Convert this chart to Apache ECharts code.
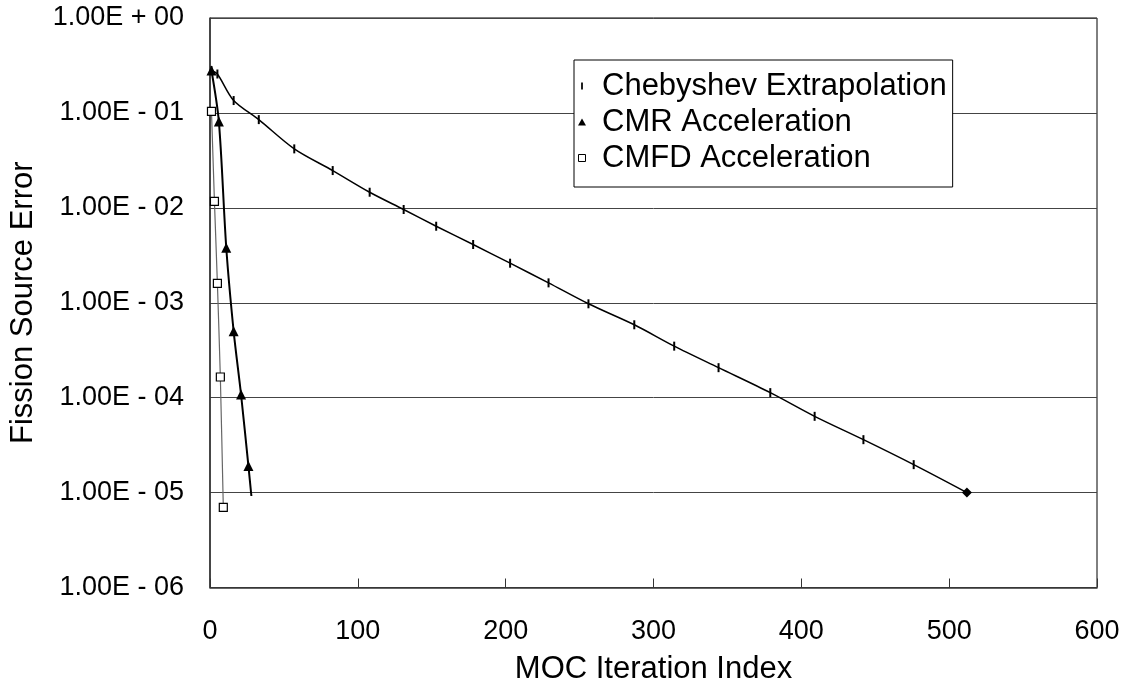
<!DOCTYPE html>
<html>
<head>
<meta charset="utf-8">
<title>Fission Source Error</title>
<script src="https://cdn.jsdelivr.net/npm/echarts@6/dist/echarts.min.js"></script>
<style>
  html, body { margin: 0; padding: 0; background: #fff; }
  #chart { width: 1131px; height: 685px; }
</style>
</head>
<body>
<div id="chart"></div>
<script>
// values
const chebX = [1, 5, 16, 33, 57, 83, 108, 131, 153, 178, 203, 229, 256, 287, 314, 344, 379, 409, 442, 476, 512]
const chebY = [0.28, 0.257, 0.135, 0.085, 0.0418, 0.0247, 0.0146, 0.0096, 0.0064, 0.00411, 0.00261, 0.00162,
  0.000975, 0.000586, 0.000349, 0.000207, 0.000113, 6.36e-5, 3.61e-5, 1.97e-5, 1.0e-5]
const cmrX = [1, 6, 11, 16, 21, 26, 28]
const cmrY = [0.28, 0.081, 0.0038, 5.0e-4, 1.08e-4, 1.9e-5, 9.2e-6]
const cmfdX = [1, 3, 5, 7, 9]
const cmfdY = [0.104, 0.0117, 0.0016, 1.65e-4, 7.0e-6]

const seriesNames = ['Chebyshev Extrapolation', 'CMR Acceleration', 'CMFD Acceleration']
const yTickLabels = ['1.00E - 06', '1.00E - 05', '1.00E - 04', '1.00E - 03', '1.00E - 02', '1.00E - 01', '1.00E + 00']
const xTicks = [0, 100, 200, 300, 400, 500, 600]

const FONT = "'Liberation Sans', Arial, sans-serif"

function pairs(xs, ys) {
  return xs.map((x, i) => [x, ys[i]])
}

const chebData = pairs(chebX, chebY)
// last point of the Chebyshev curve is drawn as a diamond
chebData[chebData.length - 1] = { value: chebData[chebData.length - 1], symbol: 'diamond', symbolSize: 10 }
const cmrData = pairs(cmrX, cmrY)
// CMR curve ends without a marker
cmrData[cmrData.length - 1] = { value: cmrData[cmrData.length - 1], symbol: 'none' }
const cmfdData = pairs(cmfdX, cmfdY)

const chart = echarts.init(document.getElementById('chart'))
chart.setOption({
  animation: false,
  backgroundColor: '#fff',
  grid: {
    left: 210,
    right: 34,
    top: 18,
    bottom: 97.5,
    show: true,
    borderColor: '#000',
    borderWidth: 1,
    containLabel: false,
    outerBoundsMode: 'none'
  },
  legend: {
    orient: 'vertical',
    left: 574,
    top: 60,
    padding: [8, 6, 11, 4],
    backgroundColor: '#fff',
    borderColor: '#000',
    borderWidth: 1,
    itemWidth: 30,
    itemHeight: 7,
    itemGap: 0,
    selectedMode: false,
    textStyle: { fontFamily: FONT, fontSize: 31, color: '#000', lineHeight: 36 },
    data: [
      { name: seriesNames[0], icon: 'path://M0,0h2v8h-2z', itemStyle: { color: '#000', borderWidth: 0 } },
      { name: seriesNames[1], icon: 'path://M4,0L8,7H0Z', itemStyle: { color: '#000', borderWidth: 0 } },
      { name: seriesNames[2], icon: 'path://M0,0H8V8H0Z', itemStyle: { color: '#fff', borderColor: '#000', borderWidth: 1 } }
    ]
  },
  xAxis: {
    type: 'value',
    min: xTicks[0],
    max: xTicks[xTicks.length - 1],
    interval: 100,
    name: 'MOC Iteration Index',
    nameLocation: 'middle',
    nameGap: 66,
    nameTextStyle: { fontFamily: FONT, fontSize: 31, color: '#000' },
    axisLine: { lineStyle: { color: '#333', width: 1.5 } },
    axisTick: { inside: true, length: 9, lineStyle: { color: '#333', width: 1 } },
    axisLabel: { margin: 31, fontFamily: FONT, fontSize: 27, color: '#000' },
    splitLine: { show: false }
  },
  yAxis: {
    type: 'log',
    logBase: 10,
    min: 1e-6,
    max: 1,
    splitNumber: 6,
    name: 'Fission Source Error',
    nameLocation: 'middle',
    nameGap: 171,
    nameTextStyle: { fontFamily: FONT, fontSize: 31, color: '#000' },
    axisLine: { show: true, lineStyle: { color: '#333', width: 1.5 } },
    axisTick: { show: false },
    axisLabel: {
      margin: 26,
      fontFamily: FONT,
      fontSize: 27,
      color: '#000',
      formatter: function (v) {
        const e = Math.round(Math.log10(v))
        return yTickLabels[e + 6]
      }
    },
    splitLine: { show: true, lineStyle: { color: '#444', width: 1 } }
  },
  series: [
    {
      name: seriesNames[0],
      type: 'line',
      data: chebData,
      smooth: 0.3,
      symbol: 'rect',
      symbolSize: [2, 9],
      lineStyle: { color: '#000', width: 1.5 },
      itemStyle: { color: '#000' },
      z: 2
    },
    {
      name: seriesNames[1],
      type: 'line',
      data: cmrData,
      smooth: 0.3,
      symbol: 'triangle',
      symbolSize: 10,
      lineStyle: { color: '#000', width: 2 },
      itemStyle: { color: '#000' },
      z: 3
    },
    {
      name: seriesNames[2],
      type: 'line',
      data: cmfdData,
      smooth: 0.2,
      symbol: 'rect',
      symbolSize: 8,
      lineStyle: { color: '#666', width: 1.2 },
      itemStyle: { color: '#fff', borderColor: '#000', borderWidth: 1.2 },
      z: 4
    }
  ]
})
</script>
</body>
</html>
